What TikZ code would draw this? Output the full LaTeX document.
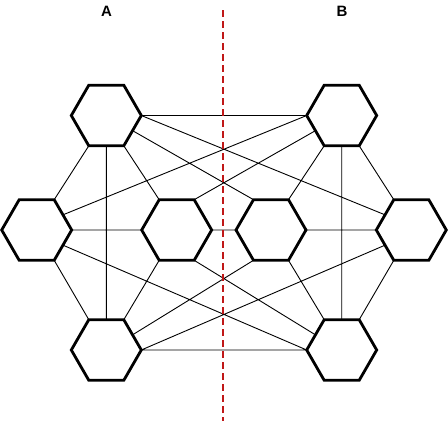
\documentclass[tikz,border=0pt]{standalone}
\usepackage{fontspec}
\setmainfont{Liberation Sans}
\usetikzlibrary{shapes.geometric}
\definecolor{divred}{RGB}{192,24,24}
\tikzset{
  hexa/.style={regular polygon, regular polygon sides=6, minimum size=70pt,
    inner sep=0pt, outer sep=0pt, draw=black, line width=2.8pt, fill=white},
  conn/.style={draw=black, line width=0.9pt},
  lbl/.style={font=\fontsize{15}{17}\selectfont\bfseries, inner sep=0pt},
  divider/.style={draw=divred, line width=2pt, dash pattern=on 6.5pt off 4.5pt}
}
\begin{document}
\begin{tikzpicture}[x=1pt, y=-1pt]
\useasboundingbox (0,0) rectangle (448,423);
\node[hexa] (TL)  at (106.3,115.5) {};
\node[hexa] (TR)  at (341.7,115.5) {};
\node[hexa] (ML)  at (36.7,230) {};
\node[hexa] (MC1) at (176.7,230) {};
\node[hexa] (MC2) at (271,230) {};
\node[hexa] (MR)  at (411.3,230) {};
\node[hexa] (BL)  at (106.3,350) {};
\node[hexa] (BR)  at (341.7,350) {};
\path[conn]
  (TL.0) -- (TR.180)
  (TL.0) -- (MR.150)
  (TL.330) -- (MC2.120)
  (TL.300) -- (MC1.120)
  (TL.240) -- (ML.60)
  (TL.270) -- (BL.90)
  (TR.180) -- (ML.30)
  (TR.210) -- (MC1.60)
  (TR.240) -- (MC2.60)
  (TR.300) -- (MR.120)
  (TR.270) -- (BR.90)
  (ML.0) -- (MC1.180)
  (MC1.0) -- (MC2.180)
  (MC2.0) -- (MR.180)
  (BL.0) -- (BR.180)
  (BL.0) -- (MR.210)
  (BL.30) -- (MC2.240)
  (BL.60) -- (MC1.240)
  (BL.120) -- (ML.300)
  (BR.180) -- (ML.330)
  (BR.150) -- (MC1.300)
  (BR.120) -- (MC2.300)
  (BR.60) -- (MR.240);
\node[lbl] (A) at (106.5,11.2) {A};
\node[lbl] (B) at (342,11.2) {B};
\coordinate (dtop) at (223,10);
\coordinate (dbot) at (223,421);
\draw[divider] (dtop) -- (dbot);
\end{tikzpicture}
\end{document}
